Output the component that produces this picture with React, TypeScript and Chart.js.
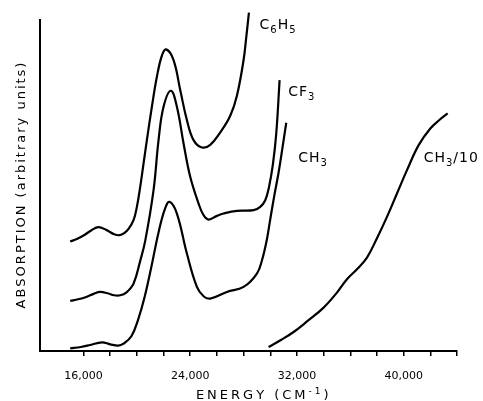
import React, { useEffect, useRef } from "react";
import { Chart, registerables } from "chart.js";

Chart.register(...registerables);

const FONT = '"DejaVu Sans", sans-serif';

// ---- data (x: energy in cm^-1, y: absorption, arbitrary units) ----
const c6h5X = [15000, 15500, 16000, 16600, 17125, 17700, 18300, 18700, 19050, 19375, 19750, 20000, 20250, 20500, 20750, 21125, 21500, 21875, 22200, 22750, 23250, 23750, 24250, 24875, 25500, 26250, 27000, 27500, 28000, 28200, 28400];
const c6h5Y = [32.8, 33.6, 34.6, 36.2, 37.1, 36.3, 35.0, 34.7, 35.3, 36.6, 39.2, 43.2, 49.2, 56.2, 63.2, 73.2, 82.2, 88.5, 90.4, 87.2, 78.2, 69.2, 63.2, 61.0, 61.8, 65.5, 70.5, 76.5, 87.2, 94.0, 101.4];

const cf3X = [15000, 15600, 16200, 16800, 17250, 17800, 18300, 18750, 19200, 19750, 20250, 20625, 21250, 21625, 22000, 22550, 23000, 23500, 24000, 24625, 25000, 25375, 26000, 26500, 27500, 28750, 29250, 29625, 29900, 30200, 30450, 30700];
const cf3Y = [15.0, 15.5, 16.2, 17.2, 17.7, 17.3, 16.7, 16.7, 17.5, 20.2, 27.0, 33.0, 48.2, 63.2, 73.2, 78.0, 73.2, 62.2, 52.2, 44.2, 40.7, 39.4, 40.5, 41.2, 42.0, 42.2, 43.2, 45.2, 49.0, 56.0, 65.2, 81.2];

const ch3X = [15000, 15800, 16500, 17375, 18000, 18600, 19000, 19600, 20100, 20600, 21100, 21650, 22125, 22450, 23000, 23750, 24500, 25000, 25500, 26750, 28000, 29000, 29400, 29750, 30000, 30300, 30625, 30900, 31200];
const ch3Y = [0.8, 1.2, 1.8, 2.6, 2.0, 1.6, 2.2, 4.5, 9.5, 16.5, 25.5, 36.0, 42.8, 44.7, 41.2, 29.2, 19.2, 16.4, 15.7, 17.7, 19.2, 23.2, 27.5, 33.5, 39.5, 46.5, 53.5, 60.5, 68.4];

const ch3d10X = [29875, 30800, 31750, 32800, 34000, 35000, 35750, 36500, 37250, 38000, 38750, 39500, 40250, 41125, 42000, 42700, 43300];
const ch3d10Y = [1.2, 3.3, 5.7, 9.0, 13.0, 17.5, 21.5, 24.5, 28.0, 33.8, 40.2, 47.2, 54.2, 61.7, 66.7, 69.3, 71.2];

// series labels ("_" = subscript next char) and their anchor (baseline start) in data units
const seriesNames = ["C_6H_5", "CF_3", "CH_3", "CH_3/10"];
const labelX = [29200, 31350, 32100, 41500];
const labelY = [96.5, 76.4, 56.6, 56.6];

// axis
const xMin = 12700;
const xMax = 44000;
const yMin = 0;
const yMax = 99.2;
const tickValues = [16000, 18000, 20000, 22000, 24000, 26000, 28000, 30000, 32000, 34000, 36000, 38000, 40000, 42000, 44000];
const labeledTickValues = [16000, 24000, 32000, 40000];
const tickLabels = ["16,000", "24,000", "32,000", "40,000"];
const xTitle = "ENERGY (CM^-^1)";
const yTitle = "ABSORPTION (arbitrary units)";

type Tok = { t: string; m: "n" | "sub" | "sup" };
function tokens(s: string): Tok[] {
  const out: Tok[] = [];
  for (let i = 0; i < s.length; i++) {
    const c = s[i];
    if (c === "_") out.push({ t: s[++i], m: "sub" });
    else if (c === "^") out.push({ t: s[++i], m: "sup" });
    else out.push({ t: c, m: "n" });
  }
  return out;
}
function fontFor(m: string, size: number) {
  return `${m === "n" ? size : Math.round(size * 0.72)}px ${FONT}`;
}
function measureRich(ctx: CanvasRenderingContext2D, toks: Tok[], size: number, sp: number) {
  let w = 0;
  toks.forEach((k, i) => {
    ctx.font = fontFor(k.m, size);
    w += ctx.measureText(k.t).width + (i < toks.length - 1 ? sp : 0);
  });
  return w;
}
function drawRich(ctx: CanvasRenderingContext2D, toks: Tok[], x: number, y: number, size: number, sp: number) {
  let cx = x;
  toks.forEach((k) => {
    ctx.font = fontFor(k.m, size);
    const dy = k.m === "sub" ? size * 0.3 : k.m === "sup" ? -size * 0.42 : 0;
    ctx.fillText(k.t, cx, y + dy);
    cx += ctx.measureText(k.t).width + sp;
  });
}

const toPts = (xs: number[], ys: number[]) => xs.map((x, i) => ({ x, y: ys[i] }));

const annotate = {
  id: "annotate",
  afterDraw(chart: any) {
    const { ctx, chartArea } = chart;
    const x = chart.scales.x;
    const y = chart.scales.y;
    ctx.save();
    ctx.fillStyle = "#000";
    ctx.textAlign = "left";
    ctx.textBaseline = "alphabetic";
    seriesNames.forEach((name, i) => {
      drawRich(ctx, tokens(name), x.getPixelForValue(labelX[i]), y.getPixelForValue(labelY[i]), 14, 1);
    });
    // x title
    const xt = tokens(xTitle);
    const xw = measureRich(ctx, xt, 13, 3);
    const xc = (chartArea.left + chartArea.right) / 2 + 14;
    drawRich(ctx, xt, xc - xw / 2, chartArea.bottom + 48, 13, 3);
    // y title
    const yt = tokens(yTitle);
    const yw = measureRich(ctx, yt, 13, 2);
    ctx.translate(chartArea.left - 14.5, (chartArea.top + chartArea.bottom) / 2);
    ctx.rotate(-Math.PI / 2);
    drawRich(ctx, yt, -yw / 2, 0, 13, 2);
    ctx.restore();
  },
};

export default function App() {
  const ref = useRef<HTMLCanvasElement | null>(null);
  useEffect(() => {
    document.body.style.margin = "0";
    const canvas = ref.current;
    if (!canvas) return;
    const line = (xs: number[], ys: number[]) => ({
      data: toPts(xs, ys),
      borderColor: "#000",
      borderWidth: 2.2,
      pointRadius: 0,
      fill: false,
      clip: false as any,
      tension: 0.4,
    });
    const chart = new Chart(canvas, {
      type: "line",
      data: {
        datasets: [
          line(c6h5X, c6h5Y),
          line(cf3X, cf3Y),
          line(ch3X, ch3Y),
          line(ch3d10X, ch3d10Y),
        ],
      },
      options: {
        animation: false,
        responsive: false,
        devicePixelRatio: 1,
        layout: { padding: { top: 20, right: 26, left: 0, bottom: 0 } },
        plugins: { legend: { display: false }, tooltip: { enabled: false } },
        scales: {
          x: {
            type: "linear",
            min: xMin,
            max: xMax,
            afterBuildTicks: (s: any) => {
              s.ticks = tickValues.map((v) => ({ value: v }));
            },
            afterFit: (s: any) => {
              s.height = 50;
            },
            grid: { display: true, drawOnChartArea: false, drawTicks: true, tickLength: 5, color: "#000", lineWidth: 1.5 },
            border: { display: true, color: "#000", width: 2 },
            ticks: {
              autoSkip: false,
              maxRotation: 0,
              minRotation: 0,
              padding: 14,
              color: "#000",
              font: { family: FONT, size: 11 },
              callback: (v: any) => {
                const k = labeledTickValues.indexOf(Number(v));
                return k >= 0 ? tickLabels[k] : "";
              },
            },
          },
          y: {
            type: "linear",
            min: yMin,
            max: yMax,
            afterFit: (s: any) => {
              s.width = 39.5;
            },
            grid: { display: false },
            border: { display: true, color: "#000", width: 2 },
            ticks: { display: false },
          },
        },
      },
      plugins: [annotate],
    });
    return () => chart.destroy();
  }, []);
  return (
    <div style={{ width: 483, height: 401 }}>
      <canvas ref={ref} width={483} height={401} style={{ display: "block" }} />
    </div>
  );
}
